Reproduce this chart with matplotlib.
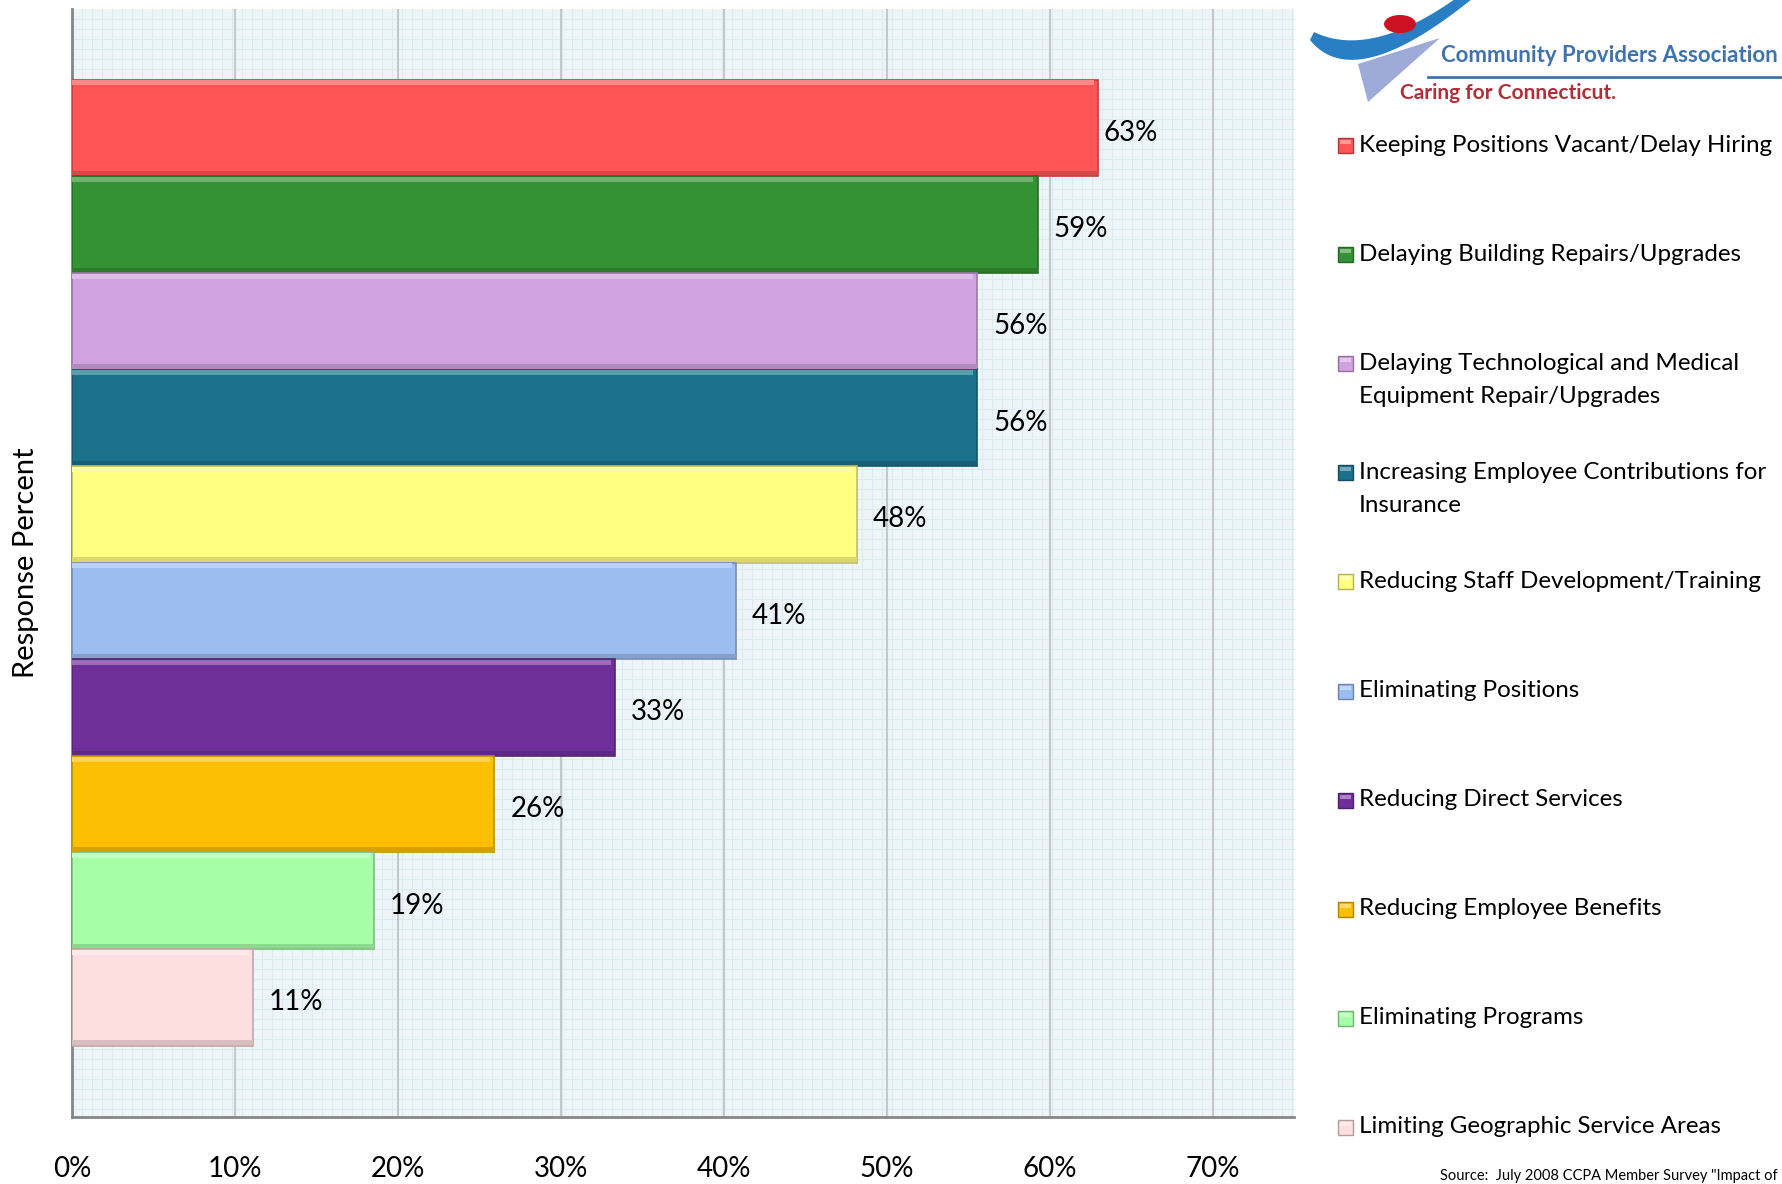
import numpy as np
import matplotlib
matplotlib.use("Agg")
import matplotlib.pyplot as plt
from matplotlib.patches import Rectangle, Polygon, Ellipse
from matplotlib.colors import to_rgb

plt.rcParams['font.family'] = ['Lato', 'DejaVu Sans']

# data
categories = ["Keeping Positions Vacant/Delay Hiring",
              "Delaying Building Repairs/Upgrades",
              "Delaying Technological and Medical\nEquipment Repair/Upgrades",
              "Increasing Employee Contributions for\nInsurance",
              "Reducing Staff Development/Training",
              "Eliminating Positions",
              "Reducing Direct Services",
              "Reducing Employee Benefits",
              "Eliminating Programs",
              "Limiting Geographic Service Areas"]
values = [62.96, 59.26, 55.56, 55.56, 48.15, 40.74, 33.33, 25.93, 18.52, 11.11]
colors = ["#fd5555", "#349134", "#d0a2e0", "#1b7189", "#fefe80",
          "#9bbdf0", "#6f2f9b", "#fcbf04", "#a6fea6", "#fedfdf"]
xticks = [0, 10, 20, 30, 40, 50, 60, 70]
source = 'Source:  July 2008 CCPA Member Survey "Impact of'

W, H = 1782, 1184
L, R, T, B = 72, 1294, 9, 1117


def shade(c, f):
    r = np.array(to_rgb(c))
    if f > 0:
        return tuple(r + (1 - r) * f)
    return tuple(r * (1 + f))


fig = plt.figure(figsize=(W / 100, H / 100), dpi=100)

# background with graph-paper texture
bg = fig.add_axes([0, 0, 1, 1], zorder=0)
bg.set_xlim(0, W); bg.set_ylim(H, 0); bg.axis('off')
bg.add_patch(Rectangle((L, T), R - L, B - T, color="#eef5f8", lw=0))
for x in np.arange(L + 10, R, 10):
    bg.plot([x, x], [T, B], color="#dcebf2", lw=0.8)
for y in np.arange(T + 10, B, 10):
    bg.plot([L, R], [y, y], color="#dcebf2", lw=0.8)

ax = fig.add_axes([L / W, 1 - B / H, (R - L) / W, (B - T) / H], zorder=1)
ax.set_facecolor('none')
ypos = np.arange(len(values))
ax.barh(ypos, values, height=1.0, color=colors,
        edgecolor=[shade(c, -0.25) for c in colors], lw=1.2, zorder=3)
# bevel highlight / shadow strips
ax.barh(ypos - 0.5 + 0.035, [v - 0.25 for v in values], height=0.05,
        color=[shade(c, 0.3) for c in colors], lw=0, zorder=4)
ax.barh(ypos + 0.5 - 0.03, values, height=0.045,
        color=[shade(c, -0.15) for c in colors], lw=0, zorder=4)

for y, v in zip(ypos, values):
    dx = 6 if y == 0 else 16
    ax.annotate(f"{v:.0f}%", (v, y), xytext=(dx, -5), textcoords='offset pixels',
                va='center', ha='left', fontsize=20, zorder=5)

ax.set_xlim(0, 75)
ax.set_ylim(9.5 + 0.74, -0.5 - 0.73)
ax.set_xticks(xticks)
ax.set_xticklabels([f"{t}%" for t in xticks], fontsize=20)
ax.tick_params(axis='x', length=0, pad=28)
ax.set_yticks([])
ax.grid(axis='x', color="#c4c8cc", lw=1.5, zorder=1)
ax.set_axisbelow(True)
for s in ['top', 'right']:
    ax.spines[s].set_visible(False)
for s in ['left', 'bottom']:
    ax.spines[s].set_color("#868686")
    ax.spines[s].set_linewidth(2)
ax.set_ylabel("Response Percent", fontsize=21, labelpad=24)

# legend and logo overlay
fg = fig.add_axes([0, 0, 1, 1], zorder=2)
fg.set_xlim(0, W); fg.set_ylim(H, 0); fg.axis('off')
for i, (lab, c) in enumerate(zip(categories, colors)):
    yc = 145 + i * 109.1
    fg.add_patch(Rectangle((1338, yc - 7), 15, 15, facecolor=c,
                           edgecolor=shade(c, -0.3), lw=1))
    fg.add_patch(Rectangle((1340, yc - 5), 11, 4, facecolor=shade(c, 0.4), lw=0))
    for j, line in enumerate(lab.split("\n")):
        fg.text(1359, yc + j * 33, line, va='center', ha='left', fontsize=17.4)

fg.text(1440, 1176, source, va='center', ha='left', fontsize=10.5)

# logo
t = np.linspace(0, 1, 60)
outer = np.column_stack([(1-t)**2*1310 + 2*(1-t)*t*1355 + t**2*1478,
                         (1-t)**2*40 + 2*(1-t)*t*96 + t**2*-6])
inner = np.column_stack([(1-t)**2*1314 + 2*(1-t)*t*1372 + t**2*1462,
                         (1-t)**2*32 + 2*(1-t)*t*60 + t**2*-6])
fg.add_patch(Polygon(np.vstack([outer, inner[::-1]]), closed=True,
                     color="#2a7fc4", lw=0))
fg.add_patch(Polygon([[1358, 64], [1440, 38], [1368, 102]], closed=True,
                     color="#9eaad8", lw=0))
fg.add_patch(Ellipse((1400, 24), 32, 18, color="#cc1122", lw=0))
fg.text(1441, 55, "Community Providers Association", va='center', ha='left',
        fontsize=16, fontweight='bold', color="#3f73ad")
fg.plot([1428, W], [77, 77], color="#3f73ad", lw=2)
fg.text(1400, 93, "Caring for Connecticut.", va='center', ha='left',
        fontsize=15, fontweight='bold', color="#b22f3a")

fig.savefig("out.png", dpi=100)
